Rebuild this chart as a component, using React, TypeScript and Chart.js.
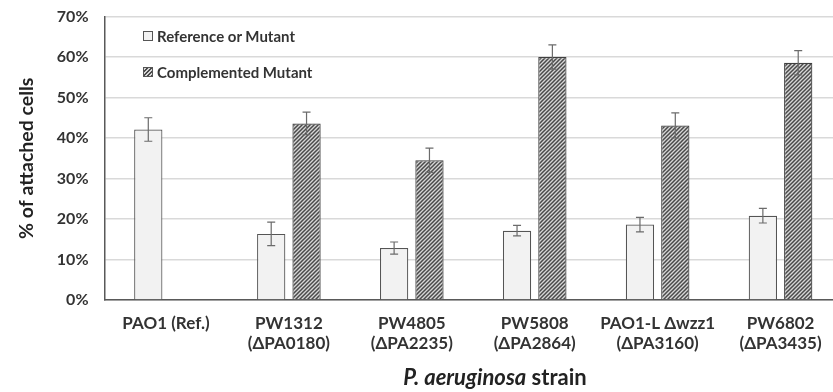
import React, { useEffect, useRef } from "react";
import { Chart, registerables } from "chart.js";

Chart.register(...registerables);

const categories: (string | string[])[] = [
  "PAO1 (Ref.)",
  ["PW1312", "(ΔPA0180)"],
  ["PW4805", "(ΔPA2235)"],
  ["PW5808", "(ΔPA2864)"],
  ["PAO1-L Δwzz1", "(ΔPA3160)"],
  ["PW6802", "(ΔPA3435)"],
];
const seriesNames = ["Reference or Mutant", "Complemented Mutant"];
const referenceValues = [42.1, 16.3, 12.8, 17.1, 18.6, 20.8];
const referenceErrors = [2.9, 2.9, 1.5, 1.3, 1.8, 1.8];
const complementedValues: (number | null)[] = [null, 43.6, 34.5, 60.0, 43.1, 58.6];
const complementedErrors: (number | null)[] = [null, 2.8, 3.0, 3.0, 3.1, 3.0];
const yTicks = [0, 10, 20, 30, 40, 50, 60, 70];
const yTitle = "% of attached cells";

const FONT = "Lato, 'Open Sans', sans-serif";
const SHIFT = 9;

function makeHatch(): CanvasPattern | string {
  const c = document.createElement("canvas");
  c.width = 4;
  c.height = 4;
  const ctx = c.getContext("2d");
  if (!ctx) return "#999";
  ctx.fillStyle = "#d6d6d6";
  ctx.fillRect(0, 0, 4, 4);
  ctx.strokeStyle = "#4a4a4a";
  ctx.lineWidth = 1.5;
  ctx.beginPath();
  ctx.moveTo(-1, 5);
  ctx.lineTo(5, -1);
  ctx.moveTo(-3, 3);
  ctx.lineTo(3, -3);
  ctx.moveTo(1, 7);
  ctx.lineTo(7, 1);
  ctx.stroke();
  const p = ctx.createPattern(c, "repeat");
  return p || "#999";
}

const errorBarPlugin = {
  id: "errorBars",
  afterDatasetsDraw(chart: any) {
    const ctx = chart.ctx;
    const yScale = chart.scales.y;
    chart.data.datasets.forEach((ds: any, di: number) => {
      const meta = chart.getDatasetMeta(di);
      const errs = ds.errors as (number | null)[];
      meta.data.forEach((el: any, i: number) => {
        const v = ds.data[i];
        const e = errs[i];
        if (v == null || e == null) return;
        const x = el.x;
        const yTop = yScale.getPixelForValue(v + e);
        const yBot = yScale.getPixelForValue(v - e);
        ctx.save();
        ctx.strokeStyle = "#6b6b6b";
        ctx.lineWidth = 1.2;
        ctx.beginPath();
        ctx.moveTo(x, yTop);
        ctx.lineTo(x, yBot);
        ctx.moveTo(x - 4, yTop);
        ctx.lineTo(x + 4, yTop);
        ctx.moveTo(x - 4, yBot);
        ctx.lineTo(x + 4, yBot);
        ctx.stroke();
        ctx.restore();
      });
    });
  },
};

export default function App() {
  const ref = useRef<HTMLCanvasElement | null>(null);

  useEffect(() => {
    document.body.style.margin = "0";
    document.body.style.overflow = "hidden";
    if (!ref.current) return;
    const hatch = makeHatch();
    const chart = new Chart(ref.current, {
      type: "bar",
      data: {
        labels: categories,
        datasets: [
          {
            label: seriesNames[0],
            data: referenceValues,
            errors: referenceErrors,
            backgroundColor: "#f2f2f2",
            borderColor: "#555555",
            borderWidth: 1.2,
            categoryPercentage: 0.575,
            barPercentage: 0.8,
          } as any,
          {
            label: seriesNames[1],
            data: complementedValues,
            errors: complementedErrors,
            backgroundColor: hatch,
            borderColor: "#404040",
            borderWidth: 1.2,
            categoryPercentage: 0.575,
            barPercentage: 0.8,
          } as any,
        ],
      },
      options: {
        animation: false,
        responsive: false,
        maintainAspectRatio: false,
        layout: { padding: { top: 0, right: 3, bottom: 24, left: 0 } },
        plugins: {
          legend: { display: false },
          tooltip: { enabled: false },
        },
        scales: {
          x: {
            grid: { display: false, drawTicks: false },
            border: { color: "#595959", width: 1.5 },
            ticks: {
              color: "#333333",
              padding: 14,
              maxRotation: 0,
              autoSkip: false,
              font: { family: FONT, size: 17, weight: "bold", lineHeight: 1.18 },
            },
          },
          y: {
            min: 0,
            max: 70,
            afterFit(scale: any) {
              scale.width = 104.5;
            },
            afterBuildTicks(scale: any) {
              scale.ticks = yTicks.map((v) => ({ value: v }));
            },
            grid: { color: "#d9d9d9", lineWidth: 1.5, drawTicks: false },
            border: { color: "#595959", width: 1.5 },
            ticks: {
              color: "#333333",
              padding: 16,
              callback: (v: any) => `${v}%`,
              font: { family: FONT, size: 16, weight: "bold" },
            },
            title: {
              display: true,
              text: yTitle,
              color: "#222222",
              padding: { top: 15, bottom: 0 },
              font: { family: FONT, size: 19.5, weight: "bold" },
            },
          },
        },
      },
      plugins: [errorBarPlugin],
    } as any);
    return () => chart.destroy();
  }, []);

  const legendText: React.CSSProperties = {
    position: "absolute",
    left: 157,
    fontFamily: FONT,
    fontWeight: "bold",
    fontSize: 15,
    color: "#333",
    lineHeight: "18px",
    whiteSpace: "nowrap",
  };
  const box: React.CSSProperties = {
    position: "absolute",
    left: 143,
    width: 8,
    height: 8,
    border: "1px solid #555",
    boxSizing: "content-box",
  };

  return (
    <div style={{ position: "fixed", left: 0, top: 0, width: 833, height: 392, overflow: "hidden", background: "#fff" }}>
      <canvas
        ref={ref}
        width={845}
        height={392 + SHIFT}
        style={{ display: "block", position: "absolute", left: 0, top: -SHIFT, width: 845, height: 392 + SHIFT }}
      />
      <div style={{ ...box, top: 31, background: "#f2f2f2" }} />
      <div style={{ ...legendText, top: 27 }}>{seriesNames[0]}</div>
      <div
        style={{
          ...box,
          top: 67,
          background: "repeating-linear-gradient(-45deg, #4a4a4a 0px, #4a4a4a 1px, #d6d6d6 1px, #d6d6d6 2.8px)",
        }}
      />
      <div style={{ ...legendText, top: 63 }}>{seriesNames[1]}</div>
      <div
        style={{
          position: "absolute",
          left: 0,
          width: 990,
          top: 364,
          textAlign: "center",
          fontFamily: FONT,
          fontWeight: "bold",
          fontSize: 22,
          lineHeight: "26px",
          color: "#222",
          whiteSpace: "nowrap",
        }}
      >
        <i>P. aeruginosa</i> strain
      </div>
    </div>
  );
}
